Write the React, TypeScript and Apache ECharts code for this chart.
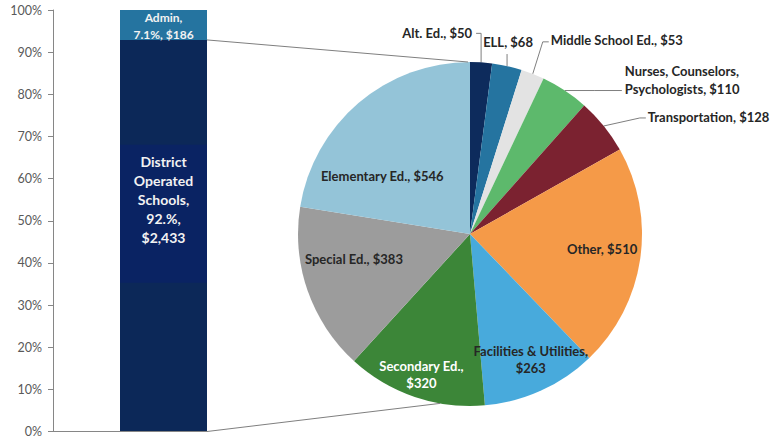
import React, { useEffect, useRef } from "react";
import * as echarts from "echarts";

// ---- data ----
const barCategories = ["Total"];
const districtShare = [92.9];
const adminShare = [7.1];
const districtLabel = "District\nOperated\nSchools,\n92.%,\n$2,433\n{gap| }";
const adminLabel = "Admin,\n7.1%, $186";

const pieNames = [
  "Alt. Ed.",
  "ELL",
  "Middle School Ed.",
  "Nurses, Counselors, Psychologists",
  "Transportation",
  "Other",
  "Facilities & Utilities",
  "Secondary Ed.",
  "Special Ed.",
  "Elementary Ed.",
];
const pieValues = [50, 68, 53, 110, 128, 510, 263, 320, 383, 546];
const pieLabels = [
  "Alt. Ed., $50",
  "ELL, $68",
  "Middle School Ed., $53",
  "Nurses, Counselors,\nPsychologists, $110",
  "Transportation, $128",
  "Other, $510",
  "Facilities & Utilities,\n$263",
  "Secondary Ed.,\n$320",
  "Special Ed., $383",
  "Elementary Ed., $546",
];
const pieColors = [
  "#0d2b5c",
  "#2574a0",
  "#e3e3e3",
  "#5db96c",
  "#7b2230",
  "#f59a48",
  "#48aadc",
  "#3c8638",
  "#9c9c9c",
  "#94c4d8",
];
const yTickValues = [0, 10, 20, 30, 40, 50, 60, 70, 80, 90, 100];

// ---- layout ----
const PIE_CX = 470;
const PIE_CY = 234;
const PIE_R = 172;
const BAR_W = 87;
const GRID_LEFT = 53;
const GRID_TOP = 10;
const GRID_BOTTOM = 6;
const GRID_W = 221;

const insideIdx = [5, 6, 7, 8, 9];
const insideOffsets: Record<number, [number, number]> = {
  5: [22, 1],
  6: [12, 22],
  7: [-10, 28],
  8: [-16, -2],
  9: [-15, 5],
};

export default function App() {
  const ref = useRef<HTMLDivElement>(null);
  useEffect(() => {
    if (!ref.current) return;
    const chart = echarts.init(ref.current, undefined, { renderer: "svg" });
    const labelFont = { fontFamily: "Lato", fontWeight: "bold" as const, fontSize: 13 };

    const option: any = {
      animation: false,
      textStyle: { fontFamily: "Lato" },
      grid: { left: GRID_LEFT, top: GRID_TOP, bottom: GRID_BOTTOM, width: GRID_W, containLabel: false },
      xAxis: {
        type: "category",
        data: barCategories,
        axisLine: { show: false },
        axisTick: { show: false },
        axisLabel: { show: false },
      },
      yAxis: {
        type: "value",
        min: yTickValues[0],
        max: yTickValues[yTickValues.length - 1],
        interval: yTickValues[1] - yTickValues[0],
        axisLine: { show: true, lineStyle: { color: "#868686", width: 1 } },
        axisTick: { show: true, length: 5, lineStyle: { color: "#868686" } },
        splitLine: { show: false },
        axisLabel: { formatter: "{value}%", color: "#595959", fontSize: 12.5, margin: 11, fontFamily: "Lato" },
      },
      series: [
        {
          type: "bar",
          stack: "total",
          data: districtShare,
          barWidth: BAR_W,
          itemStyle: { color: "#0c2858" },
          label: {
            show: true,
            position: "inside",
            formatter: () => districtLabel,
            color: "#f2f2f2",
            fontFamily: "Lato",
            fontWeight: "bold",
            fontSize: 14,
            lineHeight: 19,
            backgroundColor: "#0a2363",
            width: BAR_W,
            align: "center",
            padding: [7, 0, 8, 0],
            offset: [0, -22],
            rich: { gap: { lineHeight: 28, fontSize: 14 } },
          },
        },
        {
          type: "bar",
          stack: "total",
          data: adminShare,
          barWidth: BAR_W,
          itemStyle: { color: "#2574a0" },
          label: {
            show: true,
            position: "inside",
            formatter: () => adminLabel,
            color: "#f2f2f2",
            fontFamily: "Lato",
            fontWeight: "bold",
            fontSize: 12,
            lineHeight: 17,
            offset: [0, 1],
          },
        },
        {
          type: "pie",
          center: [PIE_CX, PIE_CY],
          radius: PIE_R,
          startAngle: 90,
          clockwise: true,
          avoidLabelOverlap: false,
          itemStyle: { borderWidth: 0 },
          label: {
            show: true,
            position: "outside",
            ...labelFont,
            color: "#262626",
            lineHeight: 18,
          },
          labelLine: { show: true, length: 10, length2: 10, lineStyle: { color: "#7f7f7f", width: 1 } },
          data: pieValues.map((v, i) => {
            const item: any = {
              name: pieNames[i],
              value: v,
              itemStyle: { color: pieColors[i] },
              label: { formatter: () => pieLabels[i] },
            };
            if (insideIdx.includes(i)) {
              item.label = {
                formatter: () => pieLabels[i],
                position: "inside",
                color: i === 7 ? "#ffffff" : "#262626",
                align: "center",
                lineHeight: 17,
              };
              item.labelLine = { show: false };
            }
            return item;
          }),
          labelLayout: (p: any) => {
            const i = p.dataIndex;
            if (p.seriesIndex !== 2) return {};
            if (insideIdx.includes(i)) {
              const o = insideOffsets[i];
              return { dx: o[0], dy: o[1] };
            }
            const pts = p.labelLinePoints;
            if (!pts || !pts[0]) return {};
            const x0 = pts[0][0];
            const y0 = pts[0][1];
            switch (i) {
              case 0:
                return {
                  x: x0 - 9, y: y0 - 29, align: "right", verticalAlign: "middle",
                  labelLinePoints: [[x0, y0], [x0, y0 - 29], [x0 - 5, y0 - 29]],
                };
              case 1:
                return {
                  x: x0 + 1, y: y0 - 24, align: "center", verticalAlign: "middle",
                  labelLinePoints: [[x0, y0], [x0, y0 - 8], [x0, y0 - 12]],
                };
              case 2:
                return {
                  x: x0 + 18, y: y0 - 34, align: "left", verticalAlign: "middle",
                  labelLinePoints: [[x0, y0], [x0 + 10, y0 - 32], [x0 + 16, y0 - 32]],
                };
              case 3:
                return {
                  x: x0 + 60, y: y0 - 11, align: "left", verticalAlign: "middle",
                  labelLinePoints: [[x0, y0], [x0 + 30, y0], [x0 + 57, y0]],
                };
              case 4:
                return {
                  x: x0 + 44, y: y0 - 9, align: "left", verticalAlign: "middle",
                  labelLinePoints: [[x0, y0], [x0 + 36, y0 - 8], [x0 + 42, y0 - 8]],
                };
            }
            return {};
          },
        },
      ],
    };
    chart.setOption(option);

    // connector lines derived from library coordinates
    const base = chart.convertToPixel({ gridIndex: 0 }, [0, 0]) as number[];
    const top = chart.convertToPixel({ gridIndex: 0 }, [0, districtShare[0]]) as number[];
    const barRight = base[0] + BAR_W / 2;
    const a = (190 * Math.PI) / 180;
    chart.setOption({
      graphic: [
        {
          type: "line",
          z: 100,
          shape: { x1: GRID_LEFT, y1: base[1], x2: barRight, y2: base[1] },
          style: { stroke: "#868686", lineWidth: 1 },
        },
        {
          type: "line",
          z: 100,
          shape: { x1: barRight, y1: top[1], x2: PIE_CX - 2, y2: PIE_CY - PIE_R },
          style: { stroke: "#7f7f7f", lineWidth: 1 },
        },
        {
          type: "line",
          z: 100,
          shape: {
            x1: barRight,
            y1: base[1],
            x2: PIE_CX + PIE_R * Math.sin(a),
            y2: PIE_CY - PIE_R * Math.cos(a),
          },
          style: { stroke: "#7f7f7f", lineWidth: 1 },
        },
      ],
    });
    return () => chart.dispose();
  }, []);
  return <div ref={ref} style={{ width: 780, height: 438, position: "absolute", left: 0, top: 0 }} />;
}
